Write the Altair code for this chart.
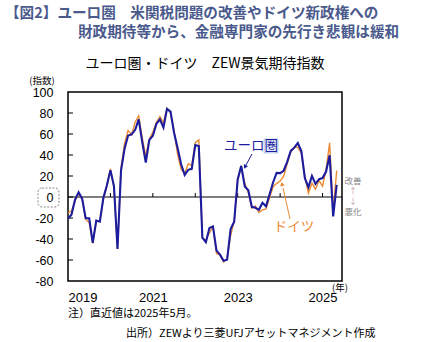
import altair as alt
import pandas as pd

# Monthly ZEW economic sentiment, Jan 2019 - May 2025
months = pd.date_range("2019-01-01", "2025-05-01", freq="MS").strftime("%Y-%m").tolist()

euro = [
    -20.9, -16.6, -2.5, 4.5, -1.6, -20.2, -20.3, -43.6, -22.4, -23.5, -1.0, 11.2,
    25.6, 10.4, -49.5, 25.2, 46.0, 58.6, 59.6, 64.0, 73.9, 52.3, 32.8, 54.4,
    58.3, 69.6, 74.0, 66.3, 84.0, 81.3, 61.2, 46.6, 31.1, 21.0, 25.9, 26.8,
    49.4, 48.6, -38.7, -43.0, -29.5, -28.0, -51.1, -54.9, -60.7, -59.7, -30.5, -23.6,
    16.7, 29.7, 10.0, 6.4, -9.4, -10.3, -12.2, -5.5, -8.9, 2.3, 13.8, 23.0,
    22.7, 25.0, 33.5, 43.9, 47.0, 51.3, 43.7, 17.9, 9.3, 20.1, 12.5, 17.0,
    18.0, 24.2, 39.8, -18.5, 11.6,
]
germany = [
    -15.0, -13.4, -3.6, 3.1, -2.1, -21.1, -24.5, -44.1, -22.5, -22.8, -2.1, 10.7,
    26.7, 8.7, -49.5, 28.2, 51.0, 63.4, 59.3, 71.5, 77.4, 56.1, 39.0, 55.0,
    61.8, 71.2, 76.6, 70.7, 84.4, 79.8, 63.3, 40.4, 26.5, 22.3, 31.7, 29.9,
    51.7, 54.3, -39.3, -41.0, -34.3, -28.0, -53.8, -55.3, -61.9, -59.2, -36.7, -23.3,
    16.9, 28.1, 13.0, 4.1, -10.7, -8.5, -14.7, -12.3, -11.4, -1.1, 9.8, 12.8,
    15.2, 19.9, 31.7, 42.9, 47.1, 47.5, 41.8, 19.2, 3.6, 13.1, 7.4, 15.7,
    10.3, 26.0, 51.6, -14.0, 25.2,
]

year_labels = ["2019", "2021", "2023", "2025"]
year_label_idx = [0, 24, 48, 72]
year_tick_idx = [12, 24, 36, 48, 60, 72]
y_ticks = [-80, -60, -40, -20, 0, 20, 40, 60, 80, 100]

BLUE = "#1c1c9e"
ORANGE = "#ec8a33"
HEAD = "#4a5a8c"
JP = "Noto Sans CJK JP"
NUM = "Liberation Sans"

df = pd.DataFrame({
    "idx": list(range(len(months))) * 2,
    "month": months * 2,
    "value": germany + euro,
    "series": ["ドイツ"] * len(germany) + ["ユーロ圏"] * len(euro),
})

label_map = "{" + ",".join(f"'{i}':'{l}'" for i, l in zip(year_label_idx, year_labels)) + "}"

xscale = alt.Scale(domain=[0, 77.5], nice=False, zero=False)
yscale = alt.Scale(domain=[-80, 100], nice=False)

x_axis = alt.Axis(
    values=year_label_idx, labelExpr=f"{label_map}[datum.value + '']",
    tickSize=0, domain=False, grid=False, title=None,
    labelFont=NUM, labelFontSize=13, labelColor="black", labelPadding=10,
    labelFontWeight=500,
)
y_axis = alt.Axis(
    values=y_ticks, labelExpr="datum.value + ''",
    tickSize=0, domain=False, grid=False, title=None,
    labelFont=NUM, labelFontSize=12.5, labelColor="black", labelPadding=15,
    labelFontWeight=500,
)

base = alt.Chart(df)

zero_line = alt.Chart(alt.Data(values=[{"y": 0}])).mark_rule(
    color="black", strokeWidth=1.2
).encode(y=alt.Y("y:Q", scale=yscale, axis=y_axis))

xticks = alt.Chart(pd.DataFrame({"idx": year_tick_idx, "y0": 0, "y1": 3.8})).mark_rule(
    color="black", strokeWidth=1
).encode(
    x=alt.X("idx:Q", scale=xscale, axis=x_axis),
    y=alt.Y("y0:Q", scale=yscale, axis=y_axis),
    y2="y1:Q",
)

yticks = alt.Chart(pd.DataFrame({"y": y_ticks[1:-1]})).mark_rule(
    color="black", strokeWidth=1
).encode(
    y=alt.Y("y:Q", scale=yscale, axis=y_axis),
    x=alt.value(0), x2=alt.value(5),
)

lines = base.mark_line(clip=True).encode(
    x=alt.X("idx:Q", scale=xscale, axis=x_axis),
    y=alt.Y("value:Q", scale=yscale, axis=y_axis),
    color=alt.Color("series:N", scale=alt.Scale(domain=["ドイツ", "ユーロ圏"], range=[ORANGE, BLUE]), legend=None),
    strokeWidth=alt.StrokeWidth("series:N", scale=alt.Scale(domain=["ドイツ", "ユーロ圏"], range=[1.4, 2.1]), legend=None),
    order=alt.Order("series:N", sort="ascending"),
)

one = alt.Data(values=[{"a": 1}])


def txt(text, x, y, size, color="black", weight="normal", align="center", font=JP):
    return alt.Chart(one).mark_text(
        text=text, align=align, baseline="middle", fontSize=size, color=color,
        fontWeight=weight, font=font,
    ).encode(x=alt.value(x), y=alt.value(y))


def seg(x1, y1, x2, y2, color, width=1):
    return alt.Chart(one).mark_rule(color=color, strokeWidth=width).encode(
        x=alt.value(x1), y=alt.value(y1), x2=alt.value(x2), y2=alt.value(y2)
    )


def head(x, y, angle, color):
    return alt.Chart(one).mark_point(
        shape="triangle-up", filled=True, size=22, color=color, angle=angle, opacity=1
    ).encode(x=alt.value(x), y=alt.value(y))


zero_box = alt.Chart(one).mark_rect(
    fill="white", fillOpacity=0, stroke="#8a8a8a", strokeDash=[2, 1.5], strokeWidth=1, cornerRadius=4
).encode(x=alt.value(-30), x2=alt.value(-9), y=alt.value(96), y2=alt.value(115))

ken_box = alt.Chart(one).mark_rect(fill="#dde7f6", stroke="#9fb6e0", strokeWidth=0.6).encode(
    x=alt.value(196), x2=alt.value(210), y=alt.value(47), y2=alt.value(61)
)

layers = [
    zero_line, xticks, yticks, lines, zero_box, ken_box,
    txt("【図2】ユーロ圏　米関税問題の改善やドイツ新政権への", -63, -78, 14.6, HEAD, "bold", "left"),
    txt("財政期待等から、金融専門家の先行き悲観は緩和", 10, -59, 14.6, HEAD, "bold", "left"),
    txt("ユーロ圏・ドイツ　ZEW景気期待指数", 137, -28, 14, "black"),
    txt("(指数)", -26, -11, 9.5, "black"),
    txt("(年)", 272, 196, 9.5, "black"),
    txt("注）直近値は2025年5月。", 0, 222, 11, "black", align="left"),
    txt("出所）ZEWより三菱UFJアセットマネジメント作成", 58, 242, 11, "black", align="left"),
    txt("ユーロ圏", 183, 54, 13.5, BLUE),
    seg(184, 62, 178, 73, BLUE, 1),
    head(177, 75, 208, BLUE),
    txt("ドイツ", 226, 135, 13.5, ORANGE),
    seg(222, 127, 215, 96, ORANGE, 1),
    head(214, 92, 347, ORANGE),
    txt("改善", 285, 89, 8.5, "#858585"),
    txt("↑", 285, 99.5, 8, "#c39aa3"),
    txt("↓", 285, 109.5, 8, "#c39aa3"),
    txt("悪化", 285, 120, 8.5, "#858585"),
]

chart = alt.layer(*layers).properties(
    width=274, height=189,
    autosize=alt.AutoSizeParams(type="none"),
    padding={"left": 68, "top": 92, "right": 80, "bottom": 61},
    background="white",
).configure_view(stroke="black", strokeWidth=1.5)

chart.save("out.html", embed_options={"renderer": "svg", "actions": False})
